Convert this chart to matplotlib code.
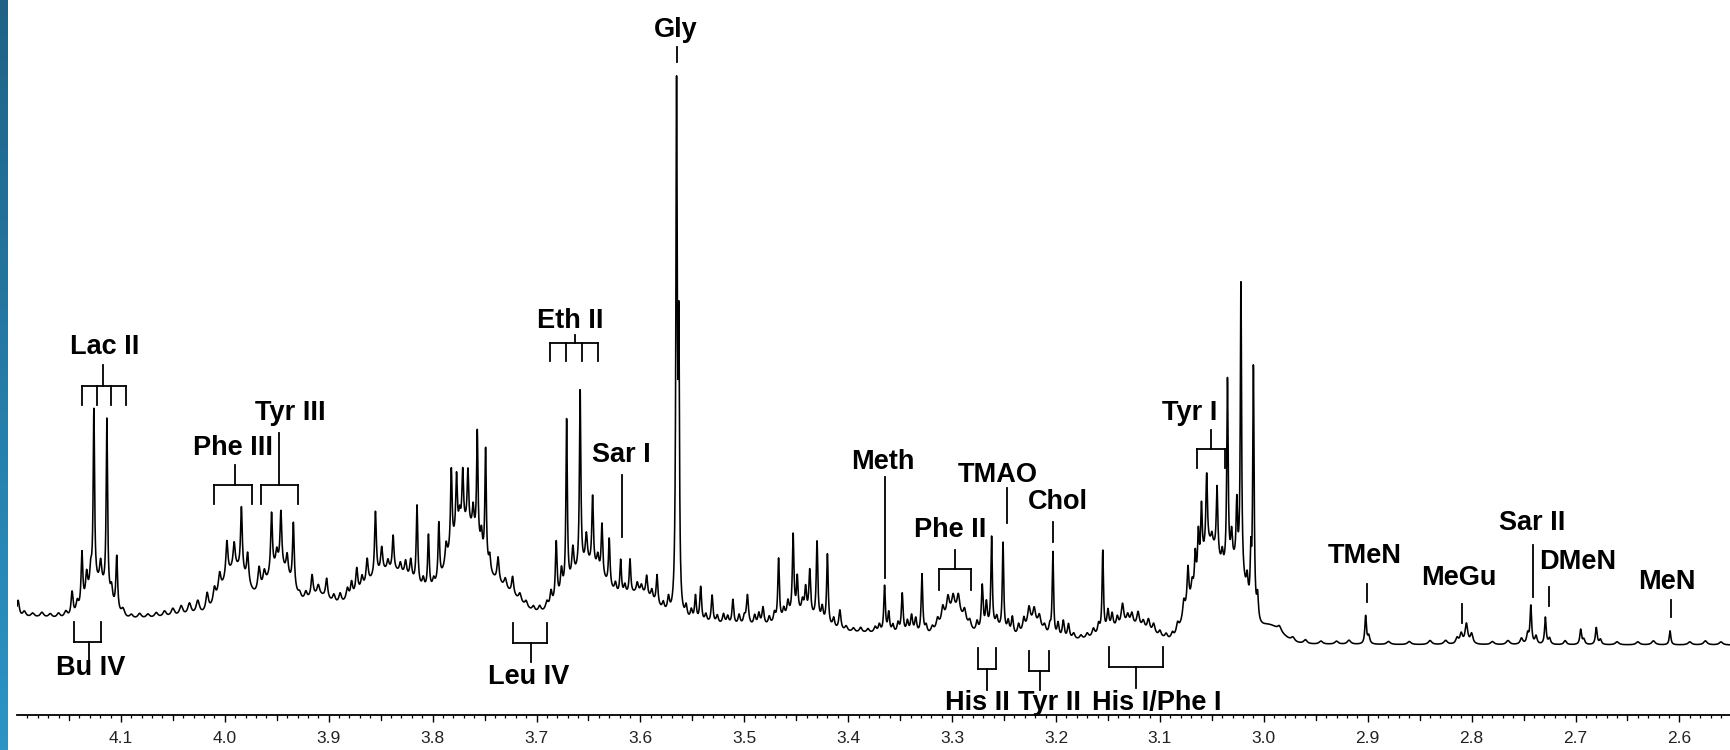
import numpy as np
import matplotlib.pyplot as plt
import matplotlib.transforms as mtransforms
from matplotlib.colors import LinearSegmentedColormap

plt.rcParams['font.family'] = ['Liberation Sans', 'DejaVu Sans']

# chemical shift window (ppm), plotted high -> low like the spectrometer output
ppm_left, ppm_right = 4.2, 2.5513
major_ticks = [4.1, 4.0, 3.9, 3.8, 3.7, 3.6, 3.5, 3.4, 3.3, 3.2, 3.1, 3.0, 2.9, 2.8, 2.7, 2.6]

# flat baseline level (intensity units = px above the axis line)
baseline = 70

# broad background humps: (centre ppm, height, sigma)
humps = [(3.85, 33, 0.32), (4.19, 8, 0.03), (4.122, 35, 0.010), (3.99, 45, 0.012),
         (3.948, 45, 0.012), (3.91, 15, 0.01), (3.84, 40, 0.025), (3.768, 85, 0.016),
         (3.735, 15, 0.01), (3.72, 10, 0.01), (3.65, 50, 0.018), (3.60, 25, 0.015),
         (3.445, 15, 0.015), (3.298, 25, 0.010), (3.26, 10, 0.01), (3.222, 15, 0.008),
         (3.13, 15, 0.02), (3.074, 20, 0.006), (3.052, 95, 0.011), (3.026, 70, 0.009),
         (2.995, 18, 0.012)]

# sharp lines: (ppm, height, half width at half max)
lac_peaks = [(4.199, 18, 0.0015), (4.193, 6, 0.002), (4.185, 4, 0.002), (4.176, 5, 0.002),
             (4.168, 4, 0.002), (4.160, 5, 0.002), (4.153, 7, 0.002), (4.147, 25, 0.0012),
             (4.142, 12, 0.0015), (4.1375, 55, 0.001), (4.133, 25, 0.0012), (4.129, 20, 0.0012),
             (4.126, 175, 0.0008), (4.1195, 22, 0.0012), (4.1135, 175, 0.0008), (4.109, 15, 0.0012),
             (4.104, 55, 0.001), (4.098, 8, 0.002), (4.090, 4, 0.002)]

phe3_tyr3_peaks = [(4.082, 5, 0.002), (4.074, 4, 0.002), (4.066, 5, 0.002), (4.058, 6, 0.002),
                   (4.050, 8, 0.002), (4.042, 10, 0.002), (4.034, 12, 0.002), (4.026, 14, 0.002),
                   (4.017, 18, 0.0015), (4.010, 15, 0.0015), (4.005, 20, 0.0015), (3.998, 36, 0.0012),
                   (3.991, 25, 0.0012), (3.984, 65, 0.001), (3.978, 30, 0.0012), (3.967, 25, 0.0015),
                   (3.962, 15, 0.0015), (3.955, 60, 0.001), (3.950, 15, 0.0012), (3.946, 55, 0.001),
                   (3.940, 20, 0.0012), (3.934, 65, 0.001), (3.928, 5, 0.0015)]

mid_peaks = [(3.922, 8, 0.0015), (3.916, 22, 0.0012), (3.910, 10, 0.0015), (3.902, 20, 0.0012),
             (3.895, 8, 0.0015), (3.889, 10, 0.0015), (3.882, 12, 0.0015), (3.878, 15, 0.0012),
             (3.873, 25, 0.0012), (3.868, 12, 0.0012), (3.863, 25, 0.0012), (3.855, 65, 0.001),
             (3.849, 25, 0.0012), (3.843, 10, 0.0012), (3.838, 35, 0.001), (3.831, 10, 0.0012),
             (3.826, 15, 0.0012), (3.821, 20, 0.0012), (3.815, 80, 0.0009), (3.809, 10, 0.0012),
             (3.804, 55, 0.0009), (3.799, 8, 0.0012), (3.794, 58, 0.0009), (3.787, 20, 0.0012),
             (3.782, 80, 0.0009), (3.777, 60, 0.0009), (3.774, 15, 0.001), (3.771, 55, 0.0009),
             (3.766, 55, 0.0009), (3.761, 25, 0.001), (3.757, 110, 0.0008), (3.753, 20, 0.001),
             (3.749, 115, 0.0008), (3.745, 15, 0.001), (3.737, 25, 0.0012), (3.730, 10, 0.0015)]

eth_peaks = [(3.723, 18, 0.0012), (3.716, 8, 0.0015), (3.710, 6, 0.0015), (3.703, 5, 0.0015),
             (3.697, 6, 0.0015), (3.690, 8, 0.0015), (3.686, 15, 0.0012), (3.681, 60, 0.001),
             (3.676, 25, 0.0012), (3.671, 170, 0.0008), (3.665, 30, 0.0012), (3.658, 180, 0.0008),
             (3.652, 30, 0.0012), (3.646, 70, 0.0009), (3.641, 15, 0.0012), (3.637, 52, 0.0009),
             (3.630, 48, 0.0009), (3.624, 10, 0.0012), (3.619, 35, 0.0009), (3.615, 10, 0.0012),
             (3.610, 35, 0.0009), (3.603, 10, 0.0012), (3.599, 8, 0.0012), (3.594, 20, 0.001),
             (3.589, 10, 0.0012), (3.584, 30, 0.001), (3.578, 8, 0.0012), (3.573, 15, 0.0012)]

gly_peaks = [(3.5652, 520, 0.0008), (3.5630, 260, 0.0007)]

post_gly_peaks = [(3.556, 12, 0.0012), (3.551, 10, 0.0012), (3.547, 25, 0.001), (3.542, 35, 0.001),
                  (3.537, 8, 0.0012), (3.531, 28, 0.001), (3.526, 8, 0.0012), (3.520, 10, 0.0012),
                  (3.516, 8, 0.0012), (3.511, 25, 0.001), (3.505, 10, 0.0012), (3.500, 8, 0.0012),
                  (3.497, 30, 0.0012), (3.490, 10, 0.0012), (3.486, 12, 0.0012), (3.482, 18, 0.0012),
                  (3.476, 8, 0.0012), (3.471, 10, 0.0012), (3.467, 63, 0.0009), (3.462, 10, 0.0012),
                  (3.458, 15, 0.0012), (3.453, 80, 0.0009), (3.449, 35, 0.0009), (3.444, 12, 0.0012),
                  (3.441, 25, 0.001), (3.437, 45, 0.001), (3.430, 78, 0.0009), (3.425, 15, 0.0012),
                  (3.420, 72, 0.0009), (3.414, 10, 0.0012), (3.408, 20, 0.0012), (3.402, 5, 0.0015)]

meth_chol_peaks = [(3.395, 4, 0.0015), (3.388, 5, 0.0015), (3.381, 4, 0.0015), (3.374, 6, 0.0015),
                   (3.370, 8, 0.0012), (3.365, 47, 0.0009), (3.361, 20, 0.001), (3.357, 8, 0.0012),
                   (3.352, 10, 0.0012), (3.348, 40, 0.001), (3.343, 12, 0.0012), (3.339, 18, 0.0012),
                   (3.335, 15, 0.0012), (3.329, 60, 0.0009), (3.325, 8, 0.0012), (3.319, 6, 0.0015),
                   (3.314, 10, 0.0015), (3.309, 15, 0.0015), (3.304, 18, 0.0015), (3.299, 15, 0.0015),
                   (3.294, 18, 0.0015), (3.288, 12, 0.0015), (3.283, 8, 0.0015), (3.276, 10, 0.0012),
                   (3.271, 45, 0.001), (3.267, 25, 0.001), (3.262, 90, 0.0008), (3.257, 10, 0.0012),
                   (3.251, 88, 0.0008), (3.246, 12, 0.0012), (3.242, 18, 0.0012), (3.236, 10, 0.0012),
                   (3.231, 12, 0.0012), (3.226, 18, 0.0015), (3.221, 15, 0.0015), (3.216, 12, 0.0015),
                   (3.211, 8, 0.0015), (3.206, 10, 0.0012), (3.203, 85, 0.0008), (3.198, 15, 0.0012),
                   (3.193, 18, 0.0012), (3.188, 15, 0.0012), (3.183, 6, 0.0015), (3.176, 4, 0.0015)]

his_tyr1_peaks = [(3.170, 5, 0.0015), (3.164, 8, 0.0015), (3.159, 10, 0.0012), (3.155, 82, 0.0008),
                  (3.150, 20, 0.0012), (3.146, 15, 0.0012), (3.141, 10, 0.0012), (3.136, 22, 0.0015),
                  (3.131, 10, 0.0015), (3.127, 12, 0.0015), (3.121, 15, 0.0015), (3.116, 8, 0.0015),
                  (3.111, 12, 0.0015), (3.106, 10, 0.0015), (3.100, 6, 0.0015), (3.094, 5, 0.0015),
                  (3.088, 6, 0.0015), (3.083, 10, 0.0015), (3.077, 15, 0.0012), (3.073, 38, 0.001),
                  (3.069, 15, 0.0012), (3.066, 35, 0.0009), (3.063, 45, 0.0009), (3.060, 60, 0.0009),
                  (3.055, 74, 0.0009), (3.050, 10, 0.001), (3.045, 69, 0.0009), (3.040, 15, 0.001),
                  (3.035, 190, 0.0008), (3.031, 30, 0.001), (3.026, 60, 0.0008), (3.022, 290, 0.0007),
                  (3.016, 20, 0.001), (3.0125, 50, 0.0007), (3.010, 250, 0.0008), (3.006, 25, 0.001)]

right_peaks = [(2.985, 5, 0.002), (2.972, 4, 0.002), (2.960, 4, 0.002), (2.945, 3, 0.002),
               (2.930, 3, 0.002), (2.918, 4, 0.002), (2.902, 28, 0.0009), (2.899, 8, 0.0012),
               (2.880, 3, 0.002), (2.860, 3, 0.002), (2.840, 4, 0.002), (2.825, 4, 0.002),
               (2.814, 6, 0.0015), (2.810, 10, 0.0015), (2.805, 20, 0.0015), (2.800, 10, 0.0015),
               (2.780, 3, 0.002), (2.765, 4, 0.002), (2.752, 6, 0.0015), (2.746, 10, 0.0012),
               (2.743, 38, 0.0009), (2.738, 8, 0.0012), (2.729, 27, 0.0009), (2.725, 6, 0.0012),
               (2.710, 4, 0.0015), (2.695, 15, 0.001), (2.692, 5, 0.0012), (2.680, 17, 0.001),
               (2.676, 5, 0.0012), (2.660, 3, 0.002), (2.640, 3, 0.002), (2.625, 4, 0.002),
               (2.609, 14, 0.0009), (2.590, 3, 0.002), (2.575, 4, 0.002), (2.560, 3, 0.002)]

# single-line assignments: name, stem ppm, stem bottom, stem top, label ppm, label y
single_labels = [('Gly', 3.5648, 653, 668, 3.5657, 685),
                 ('Sar I', 3.6177, 178, 240, 3.6187, 260),
                 ('Meth', 3.3646, 137, 238, 3.3665, 253),
                 ('TMAO', 3.2472, 192, 227, 3.2558, 240),
                 ('Chol', 3.2029, 173, 193, 3.1981, 213),
                 ('TMeN', 2.9007, 113, 131, 2.9026, 159),
                 ('MeGu', 2.8092, 92, 111, 2.8122, 137),
                 ('Sar II', 2.7409, 118, 170, 2.7419, 192),
                 ('DMeN', 2.7255, 109, 128, 2.6976, 153),
                 ('MeN', 2.6081, 98, 115, 2.6120, 133)]

# multiplet brackets: name, leg ppms, leg tip y, bar y, stem end y, stem ppm, label ppm, label y
bracket_labels = [('Lac II', [4.1374, 4.1230, 4.1095, 4.0950], 310, 329, 350, 4.1172, 4.1153, 368),
                  ('Phe III', [4.0104, 3.9738], 211, 230, 250, 3.9902, 3.9921, 267),
                  ('Tyr III', [3.9652, 3.9296], 211, 230, 282, 3.9478, 3.9372, 302),
                  ('Eth II', [3.6870, 3.6716, 3.6562, 3.6408], 354, 372, 380, 3.6629, 3.6677, 394),
                  ('Phe II', [3.3126, 3.2818], 125, 146, 165, 3.2972, 3.3020, 185),
                  ('Tyr I', [3.0643, 3.0373], 247, 266, 285, 3.0508, 3.0710, 302),
                  ('Bu IV', [4.1451, 4.1192], 93, 73, 55, 4.1307, 4.1288, 47),
                  ('Leu IV', [3.7226, 3.6899], 92, 72, 53, 3.7053, 3.7072, 38),
                  ('His II', [3.2751, 3.2578], 67, 46, 25, 3.2664, 3.2760, 12),
                  ('Tyr II', [3.2260, 3.2067], 64, 44, 25, 3.2154, 3.2067, 12),
                  ('His I/Phe I', [3.1490, 3.0970], 68, 48, 27, 3.1230, 3.1028, 12)]

# ---- build the trace -------------------------------------------------------
xs = np.linspace(ppm_left, ppm_right, 9000)
spec = np.full_like(xs, float(baseline))
for c, a, s in humps:
    spec += a * np.exp(-0.5 * ((xs - c) / s) ** 2)
all_peaks = (lac_peaks + phe3_tyr3_peaks + mid_peaks + eth_peaks + gly_peaks +
             post_gly_peaks + meth_chol_peaks + his_tyr1_peaks + right_peaks)
for c, a, w in all_peaks:
    spec += a * w ** 2 / ((xs - c) ** 2 + w ** 2)

# ---- figure ------------------------------------------------------------------
W, H = 1730, 750
fig = plt.figure(figsize=(W / 100, H / 100), dpi=100)
fig.patch.set_facecolor('white')

# blue slide edge on the left
bar = fig.add_axes([0, 0, 8 / W, 1])
grad = np.linspace(0, 1, 256).reshape(-1, 1)
cmap = LinearSegmentedColormap.from_list('edge', ['#1f6286', '#2c95c6'])
bar.imshow(grad, aspect='auto', cmap=cmap, extent=[0, 1, 0, 1], origin='upper')
bar.axis('off')

ax = fig.add_axes([17 / W, 35 / H, 1 - 17 / W, 715 / H])
ax.plot(xs, spec, color='black', lw=1.15)
ax.set_xlim(ppm_left, ppm_right)
ax.set_ylim(0, 715)

for s in ['top', 'left', 'right']:
    ax.spines[s].set_visible(False)
ax.spines['bottom'].set_linewidth(1.3)
ax.set_yticks([])
ax.set_xticks(major_ticks)
ax.set_xticklabels(['%.1f' % t for t in major_ticks])
ax.set_xticks([round(4.19 - 0.01 * i, 2) for i in range(164)], minor=True)
ax.tick_params(axis='x', which='major', direction='out', length=5, width=1.0,
               labelsize=12.5, labelcolor='#222222', pad=6.5)
ax.tick_params(axis='x', which='minor', direction='out', length=2.5, width=0.9)

# half-way ticks (x.x5) a bit longer than the minor ones
trans = mtransforms.blended_transform_factory(ax.transData, ax.transAxes)
for i in range(17):
    t = 4.15 - 0.1 * i
    if ppm_right < t < ppm_left:
        ax.plot([t, t], [0, -5 / 715], color='black', lw=0.9, transform=trans, clip_on=False)

lab_kw = dict(ha='center', va='center', fontsize=19.5, fontweight='bold', color='black')
lw_ann = 1.3
for name, sp, y0, y1, lp, ly in single_labels:
    ax.plot([sp, sp], [y0, y1], color='black', lw=lw_ann)
    ax.text(lp, ly, name, **lab_kw)

for name, legs, tip, bar_y, stem_y, sp, lp, ly in bracket_labels:
    for lg in legs:
        ax.plot([lg, lg], [tip, bar_y], color='black', lw=lw_ann)
    ax.plot([legs[0], legs[-1]], [bar_y, bar_y], color='black', lw=lw_ann)
    ax.plot([sp, sp], [bar_y, stem_y], color='black', lw=lw_ann)
    ax.text(lp, ly, name, **lab_kw)

fig.savefig('out.png', dpi=100, facecolor='white')
